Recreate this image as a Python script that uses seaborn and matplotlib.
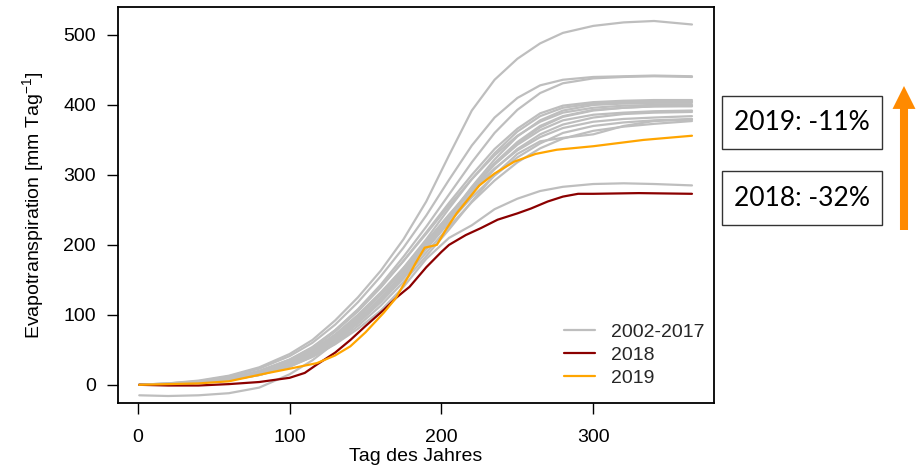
import numpy as np
import pandas as pd
import matplotlib
matplotlib.use("Agg")
import matplotlib.pyplot as plt
from matplotlib.patches import Rectangle, FancyArrowPatch
import seaborn as sns

# ---------------- data ----------------
DAYS = [1, 20, 40, 60, 80, 100, 115, 130, 145, 160, 175, 190, 205, 220, 235, 250, 265, 280, 300, 320, 340, 365]

grey_a = [0, 2, 6, 13, 25, 44, 64, 92, 125, 163, 208, 262, 328, 392, 436, 466, 488, 503, 513, 518, 520, 515]
grey_b = [0, 2, 5, 12, 23, 41, 60, 86, 118, 155, 196, 242, 293, 342, 382, 410, 428, 436, 440, 441, 442, 441]
grey_c = [0, 1, 4, 9, 19, 36, 53, 78, 108, 143, 183, 226, 272, 318, 360, 393, 417, 431, 438, 440, 441, 440]
grey_d = [0, 1, 4, 9, 19, 35, 52, 76, 105, 139, 177, 218, 260, 300, 337, 366, 388, 399, 404, 406, 407, 407]
grey_e = [0, 1, 3, 8, 17, 31, 47, 69, 97, 130, 167, 208, 252, 294, 331, 362, 384, 396, 402, 404, 405, 405]
grey_f = [0, 1, 3, 7, 14, 27, 42, 62, 88, 119, 155, 196, 240, 283, 322, 355, 378, 392, 400, 402, 403, 403]
grey_g = [0, 2, 4, 10, 20, 36, 54, 78, 107, 140, 177, 216, 256, 294, 328, 356, 376, 389, 396, 399, 400, 400]
grey_h = [-15, -16, -15, -12, -4, 15, 35, 60, 90, 123, 160, 200, 241, 281, 317, 347, 370, 384, 393, 396, 398, 398]
grey_i = [0, 1, 3, 8, 17, 31, 47, 69, 96, 128, 164, 203, 243, 281, 315, 343, 364, 378, 386, 389, 391, 392]
grey_j = [0, 1, 3, 7, 15, 28, 43, 63, 89, 120, 156, 195, 236, 274, 308, 337, 358, 372, 382, 387, 389, 390]
grey_k = [0, 1, 4, 9, 18, 33, 50, 72, 100, 132, 167, 205, 243, 278, 309, 335, 354, 367, 376, 380, 382, 384]
grey_l = [0, 1, 3, 8, 16, 30, 45, 66, 92, 122, 157, 194, 232, 268, 299, 325, 345, 360, 370, 375, 378, 380]
grey_m = [0, 1, 3, 7, 14, 26, 40, 59, 84, 113, 147, 184, 222, 262, 300, 330, 348, 353, 358, 370, 377, 379]
grey_n = [0, 1, 3, 7, 15, 28, 43, 63, 88, 118, 152, 189, 226, 261, 292, 318, 338, 352, 363, 369, 373, 377]
grey_o = [0, 1, 3, 8, 16, 30, 46, 67, 93, 124, 160, 199, 240, 279, 315, 345, 368, 383, 392, 396, 398, 399]
grey_p = [0, 1, 3, 7, 14, 26, 40, 58, 80, 106, 140, 180, 210, 228, 251, 266, 277, 283, 287, 288, 287, 285]

RED_DAYS = [1, 20, 40, 60, 80, 100, 110, 118, 130, 140, 150, 162, 170, 175, 179, 190, 200, 205, 216,
            226, 237, 250, 259, 270, 280, 290, 300, 330, 365]
red_2018 = [0, -1, -1, 1, 4, 10, 17, 29, 46, 64, 84, 107, 124, 133, 140, 168, 190, 200, 214,
            224, 236, 245, 252, 262, 269, 273, 273, 274, 273]

ORANGE_DAYS = [1, 20, 40, 60, 86, 100, 118, 130, 140, 150, 162, 170, 179, 183, 189, 197, 203, 210,
               225, 235, 248, 262, 276, 300, 333, 365]
orange_2019 = [0, 1, 2, 5, 17, 23, 31, 42, 55, 75, 103, 124, 158, 174, 196, 200, 222, 245,
               285, 302, 319, 330, 336, 341, 350, 356]

GROUPS = ["2002-2017", "2018", "2019"]
X_TICKS = [0, 100, 200, 300]
Y_TICKS = [0, 100, 200, 300, 400, 500]
BOX_TEXTS = ["2019: -11%", "2018: -32%"]

# ---------------- table ----------------
greys = [grey_a, grey_b, grey_c, grey_d, grey_e, grey_f, grey_g, grey_h,
         grey_i, grey_j, grey_k, grey_l, grey_m, grey_n, grey_o, grey_p]
rows = []
for i, g in enumerate(greys):
    for d, v in zip(DAYS, g):
        rows.append((d, v, f"g{i}", GROUPS[0]))
for d, v in zip(RED_DAYS, red_2018):
    rows.append((d, v, "r", GROUPS[1]))
for d, v in zip(ORANGE_DAYS, orange_2019):
    rows.append((d, v, "o", GROUPS[2]))
df = pd.DataFrame(rows, columns=["day", "et", "unit", "group"])

# ---------------- style ----------------
sns.set_theme(style="white")
plt.rcParams["font.family"] = ["Liberation Sans", "DejaVu Sans"]
plt.rcParams["mathtext.fontset"] = "custom"
plt.rcParams["mathtext.rm"] = "Liberation Sans"
plt.rcParams["mathtext.it"] = "Liberation Sans:italic"
plt.rcParams["mathtext.default"] = "regular"

W, H = 924, 467
fig = plt.figure(figsize=(W / 100, H / 100), dpi=100)
ax = fig.add_axes([118 / W, 1 - 403 / H, (714 - 118) / W, (403 - 7) / H])

palette = {GROUPS[0]: "#BEBEBE", GROUPS[1]: "#8B0000", GROUPS[2]: "#FFA500"}
sns.lineplot(data=df, x="day", y="et", hue="group", units="unit", estimator=None,
             palette=palette, hue_order=GROUPS, linewidth=1.6, ax=ax, sort=True)

ax.set_xlim(-13.0, 379.5)
ax.set_ylim(-26, 540)
ax.set_xticks(X_TICKS)
ax.set_yticks(Y_TICKS)
ax.tick_params(axis="both", direction="out", length=8, width=1, color="black",
               labelsize=14, labelcolor="black")
ax.tick_params(axis="x", pad=10.5)
ax.tick_params(axis="y", pad=8)
ax.tick_params(left=True, bottom=True)
for s in ax.spines.values():
    s.set_visible(True)
    s.set_color("black")
    s.set_linewidth(1.3)
ax.set_xlabel("Tag des Jahres", fontsize=14, labelpad=2, color="black")
ax.set_ylabel(r"Evapotranspiration [mm Tag$^{-1}$]", fontsize=14, labelpad=12, color="black")

handles, labels = ax.get_legend_handles_labels()
leg = ax.legend(handles, labels, loc="lower right", frameon=False, fontsize=14,
                handlelength=1.6, handletextpad=0.8, labelspacing=0.28,
                borderaxespad=0.0, bbox_to_anchor=(0.997, 0.02))
for lh in leg.get_lines():
    lh.set_linewidth(1.6)

# ---------------- annotations ----------------
for (y0, y1), txt in zip([(96, 149), (171, 225)], BOX_TEXTS):
    fig.add_artist(Rectangle((722 / W, 1 - y1 / H), (882 - 722) / W, (y1 - y0) / H,
                             transform=fig.transFigure, fill=False, ec="#333333", lw=1))
    fig.text(802 / W, 1 - (y0 + y1) / 2 / H, txt, ha="center", va="center",
             fontsize=19, family=["Lato", "DejaVu Sans"], color="black")

arrow = FancyArrowPatch((904 / W, 1 - 230 / H), (904 / W, 1 - 86 / H),
                        transform=fig.transFigure, shrinkA=0, shrinkB=0,
                        arrowstyle="simple,head_length=16.5,head_width=16.5,tail_width=5.8",
                        mutation_scale=1, color="#FF8A00", lw=0)
fig.add_artist(arrow)

fig.savefig("out.png", dpi=100)
